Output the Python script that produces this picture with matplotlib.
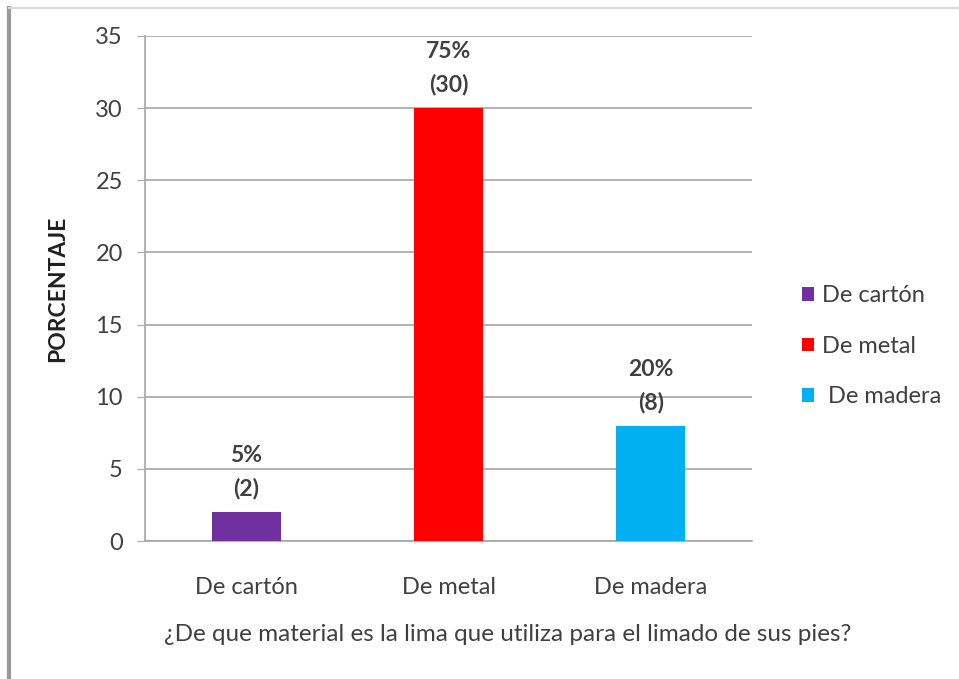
import matplotlib.pyplot as plt
from matplotlib.lines import Line2D
from matplotlib.patches import Patch

plt.rcParams['font.family'] = ['Lato', 'DejaVu Sans']

categories = ['De cartón', 'De metal', 'De madera']
counts = [2, 30, 8]
percents = [5, 75, 20]
colors = ['#7030A0', '#FF0000', '#00B0F0']

fig = plt.figure(figsize=(9.59, 6.79), dpi=100)
ax = fig.add_axes([0.1512, 0.2032, 0.633, 0.744])

x = range(len(categories))
bars = ax.bar(x, counts, width=0.34, color=colors, zorder=3)

for rect, c, p in zip(bars, counts, percents):
    ax.annotate(f'{p}%\n({c})', (rect.get_x() + rect.get_width() / 2, c),
                xytext=(0, 9), textcoords='offset points',
                ha='center', va='bottom', fontsize=16.5, fontweight='bold',
                color='#404040', linespacing=1.65)

ax.set_xlim(-0.5, 2.5)
ax.set_ylim(0, 35)
ax.set_yticks(range(0, 36, 5))
ax.set_xticks(list(x))
ax.set_xticklabels(categories)
ax.grid(axis='y', color='#a6a6a6', linewidth=1.2, zorder=0)
for side in ['top', 'right']:
    ax.spines[side].set_visible(False)
ax.spines['left'].set_color('#a6a6a6')
ax.spines['bottom'].set_color('#a6a6a6')
ax.spines['left'].set_linewidth(1.2)
ax.spines['bottom'].set_linewidth(1.2)
ax.tick_params(axis='y', length=6, color='#a6a6a6', labelsize=17, labelcolor='#404040', pad=10)
ax.tick_params(axis='x', length=0, labelsize=17, labelcolor='#404040', pad=26)

ax.set_ylabel('PORCENTAJE', fontsize=16.5, fontweight='bold', color='#202020')
ax.yaxis.set_label_coords(-0.127, 0.5)
ax.set_xlabel('¿De que material es la lima que utiliza para el limado de sus pies?',
              fontsize=17.5, color='#404040')
ax.xaxis.set_label_coords(0.597, -0.165)

handles = [Patch(facecolor=col, edgecolor='none') for col in colors]
fig.legend(handles, [' ' * (i == 2) + c for i, c in enumerate(categories)],
           loc='center left', bbox_to_anchor=(0.814, 0.49),
           frameon=False, fontsize=17, handlelength=0.5, handleheight=0.5,
           handletextpad=0.35, labelspacing=1.25, labelcolor='#404040')

# page frame on the left and top
fig.add_artist(Line2D([0.009, 0.009], [0, 0.988], color='#9a9a9a', linewidth=3))
fig.add_artist(Line2D([0.009, 1.0], [0.988, 0.988], color='#d9d9d9', linewidth=1.5))

fig.savefig('out.png', dpi=100, facecolor='white')
